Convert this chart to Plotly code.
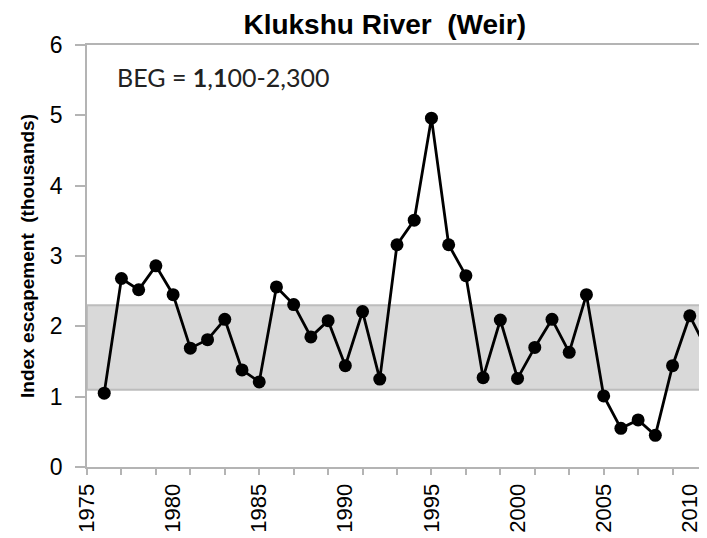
import plotly.graph_objects as go

# Klukshu River weir counts (thousands)
years = list(range(1976, 2012))
escapement = [1.05, 2.68, 2.52, 2.86, 2.45, 1.69, 1.81, 2.10, 1.38, 1.21,
              2.56, 2.31, 1.85, 2.08, 1.44, 2.21, 1.25, 3.16, 3.51, 4.96,
              3.16, 2.72, 1.27, 2.09, 1.26, 1.70, 2.10, 1.63, 2.45, 1.01,
              0.55, 0.67, 0.45, 1.44, 2.15, 1.66]

beg_low = 1.1
beg_high = 2.3
minor_ticks = list(range(1975, 2012, 2))
label_ticks = list(range(1975, 2011, 5))

axis_grey = '#b4b4b4'

fig = go.Figure()

# BEG band
fig.add_hrect(y0=beg_low, y1=beg_high, fillcolor='#d9d9d9', layer='below',
              line=dict(color='#bdbdbd', width=2))

fig.add_trace(go.Scatter(
    x=years,
    y=escapement,
    mode='lines+markers',
    line=dict(color='black', width=2.8),
    marker=dict(color='black', size=13),
    showlegend=False
))

# invisible copy so the label axis gets drawn
fig.add_trace(go.Scatter(
    x=years, y=escapement, xaxis='x2', mode='markers',
    marker=dict(opacity=0), hoverinfo='skip', showlegend=False
))

fig.add_annotation(
    x=0.045, y=0.925, xref='paper', yref='paper',
    xanchor='left', yanchor='middle', showarrow=False,
    text='BEG = <b>1</b>,<b>1</b>00-2,300',
    font=dict(family='Lato', size=25, color='#222222')
)

# page body has an 8px margin, so the figure is sized to fit inside the window
fig.update_layout(
    width=699, height=530,
    margin=dict(l=79, r=0, t=37, b=71),
    paper_bgcolor='white',
    plot_bgcolor='white',
    title=dict(text='<b>Klukshu River  (Weir)</b>', x=0.539, xanchor='center',
               y=0.988, yanchor='top',
               font=dict(family='Liberation Sans', size=28, color='black')),
    xaxis=dict(range=[1975, 2011], tickvals=minor_ticks, showticklabels=False,
               ticks='outside', ticklen=6, tickcolor=axis_grey, tickwidth=1.5,
               showline=True, linecolor=axis_grey, linewidth=1.5, mirror=True,
               showgrid=False, zeroline=False, automargin=False),
    xaxis2=dict(range=[1975, 2011], overlaying='x', matches='x', side='bottom',
                anchor='y', tickvals=label_ticks, tickangle=-90,
                ticks='outside', ticklen=7, tickcolor='rgba(0,0,0,0)',
                tickfont=dict(family='Liberation Sans', size=22, color='black'),
                showline=False, showgrid=False, zeroline=False, automargin=False),
    yaxis=dict(range=[0, 6], tickvals=[0, 1, 2, 3, 4, 5, 6],
               ticks='outside', ticklen=10, tickcolor=axis_grey, tickwidth=1.5,
               ticklabelstandoff=8,
               tickfont=dict(family='Liberation Sans', size=23, color='black'),
               showline=True, linecolor=axis_grey, linewidth=1.5,
               showgrid=False, zeroline=False, automargin=False,
               title=dict(text='<b>Index escapement  (thousands)</b>', standoff=10,
                          font=dict(family='Liberation Sans', size=19, color='black')))
)

fig.write_html("out.html")
